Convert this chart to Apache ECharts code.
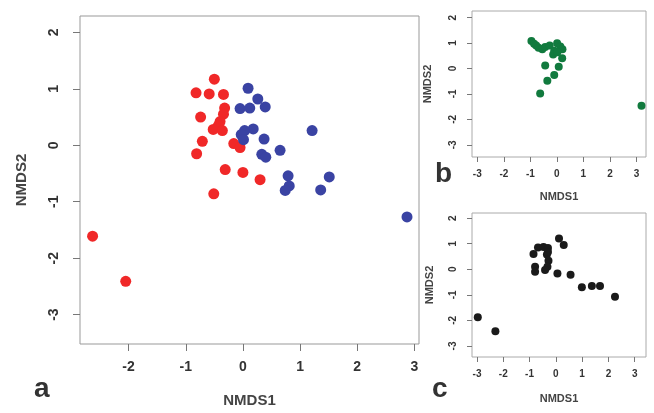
<!DOCTYPE html>
<html><head><meta charset="utf-8">
<script src="https://cdn.jsdelivr.net/npm/echarts@6/dist/echarts.min.js"></script>
<style>html,body{margin:0;padding:0;background:#fff}#c{width:654px;height:413px}</style>
</head><body><div id="c"></div>
<script>
// Tick values
const ticksAX = [-2, -1, 0, 1, 2, 3];
const ticksAY = [-3, -2, -1, 0, 1, 2];
const ticksBCX = [-3, -2, -1, 0, 1, 2, 3];
const ticksBCY = [-3, -2, -1, 0, 1, 2];

// Panel a, group 1 (red)
const groupRed = [
  [-0.50, 1.17], [-0.82, 0.93], [-0.59, 0.91], [-0.34, 0.90], [-0.32, 0.66],
  [-0.34, 0.55], [-0.74, 0.50], [-0.40, 0.42], [-0.43, 0.35], [-0.52, 0.28],
  [-0.36, 0.26], [-0.71, 0.07], [-0.81, -0.15], [-0.16, 0.03], [-0.05, -0.04],
  [-0.31, -0.43], [0.00, -0.48], [0.30, -0.61], [-0.51, -0.86], [-2.63, -1.61],
  [-2.05, -2.41]
];
// Panel a, group 2 (blue)
const groupBlue = [
  [0.09, 1.01], [0.26, 0.82], [0.39, 0.68], [-0.05, 0.65], [0.12, 0.66],
  [0.18, 0.29], [0.03, 0.26], [-0.03, 0.19], [0.01, 0.10], [0.37, 0.11],
  [1.21, 0.26], [0.65, -0.09], [0.33, -0.16], [0.40, -0.21], [0.79, -0.54],
  [0.81, -0.72], [0.74, -0.80], [1.51, -0.56], [1.36, -0.79], [2.87, -1.27]
];
// Panel b (green)
const panelB = [
  [-0.96, 1.08], [-0.86, 0.97], [-0.78, 0.90], [-0.69, 0.82], [-0.55, 0.76],
  [-0.44, 0.84], [-0.27, 0.90], [0.01, 0.99], [0.13, 0.86], [-0.10, 0.70],
  [0.21, 0.76], [-0.14, 0.55], [0.02, 0.64], [0.20, 0.40], [-0.44, 0.12],
  [0.07, 0.07], [-0.10, -0.26], [-0.36, -0.48], [-0.63, -0.98], [3.19, -1.47]
];
// Panel c (black)
const panelC = [
  [0.12, 1.20], [0.30, 0.95], [-0.68, 0.85], [-0.47, 0.87], [-0.30, 0.83],
  [-0.85, 0.60], [-0.34, 0.58], [-0.30, 0.68], [-0.28, 0.33], [-0.32, 0.10],
  [-0.79, 0.10], [-0.79, -0.10], [-0.41, -0.03], [0.06, -0.17], [0.56, -0.21],
  [0.99, -0.70], [1.37, -0.65], [1.68, -0.65], [2.25, -1.07], [-2.97, -1.88],
  [-2.30, -2.42]
];

const FONT = 'Liberation Sans';
function xAx(g, min, max, ticks, fs, margin, tl, gap, nfs) {
  return {
    type: 'value', gridIndex: g, min: min, max: max,
    splitLine: {show: false}, axisLine: {show: false, onZero: false},
    axisTick: {show: true, customValues: ticks, length: tl, lineStyle: {color: '#777', width: 1}},
    axisLabel: {customValues: ticks, fontSize: fs, fontWeight: 'bold', color: '#333', margin: margin, fontFamily: FONT},
    name: 'NMDS1', nameLocation: 'middle', nameGap: gap,
    nameTextStyle: {fontSize: nfs, fontWeight: 'bold', color: '#444', fontFamily: FONT}
  };
}
function yAx(g, min, max, ticks, fs, margin, tl, gap, nfs) {
  return {
    type: 'value', gridIndex: g, min: min, max: max,
    splitLine: {show: false}, axisLine: {show: false, onZero: false},
    axisTick: {show: true, customValues: ticks, length: tl, lineStyle: {color: '#777', width: 1}},
    axisLabel: {customValues: ticks, fontSize: fs, fontWeight: 'bold', color: '#333', margin: margin, rotate: 90, fontFamily: FONT},
    name: 'NMDS2', nameLocation: 'middle', nameGap: gap, nameRotate: 90,
    nameTextStyle: {fontSize: nfs, fontWeight: 'bold', color: '#444', fontFamily: FONT}
  };
}
function sc(idx, data, color, size) {
  return {type: 'scatter', xAxisIndex: idx, yAxisIndex: idx, data: data, symbolSize: size,
    itemStyle: {color: color, opacity: 1}, silent: true, animation: false};
}

const chart = echarts.init(document.getElementById('c'), null, {renderer: 'canvas'});
chart.setOption({
  backgroundColor: '#fff',
  animation: false,
  grid: [
    {left: 80, top: 16, width: 339, height: 332, show: true, borderColor: '#999', borderWidth: 1},
    {left: 472, top: 11, width: 174, height: 146, show: true, borderColor: '#aaa', borderWidth: 1},
    {left: 472, top: 213, width: 174, height: 144, show: true, borderColor: '#aaa', borderWidth: 1}
  ],
  xAxis: [
    xAx(0, -2.85, 3.08, ticksAX, 14, 16, 7, 49, 15),
    xAx(1, -3.2, 3.36, ticksBCX, 10, 12, 5, 34, 11),
    xAx(2, -3.19, 3.43, ticksBCX, 10, 12, 5, 36, 11)
  ],
  yAxis: [
    yAx(0, -3.52, 2.29, ticksAY, 14, 19, 7, 51, 15),
    yAx(1, -3.48, 2.26, ticksBCY, 10, 14, 5, 39, 11),
    yAx(2, -3.43, 2.20, ticksBCY, 10, 14, 5, 37, 11)
  ],
  series: [
    sc(0, groupRed, '#f02828', 11),
    sc(0, groupBlue, '#3a43a3', 11),
    sc(1, panelB, '#117a3e', 8),
    sc(2, panelC, '#1a1a1a', 8)
  ],
  graphic: [
    {type: 'text', left: 34, top: 375, style: {text: 'a', fontSize: 28, fontWeight: 'bold', fill: '#333', fontFamily: FONT}},
    {type: 'text', left: 435, top: 160, style: {text: 'b', fontSize: 28, fontWeight: 'bold', fill: '#333', fontFamily: FONT}},
    {type: 'text', left: 432, top: 375, style: {text: 'c', fontSize: 28, fontWeight: 'bold', fill: '#333', fontFamily: FONT}}
  ]
});
</script></body></html>
